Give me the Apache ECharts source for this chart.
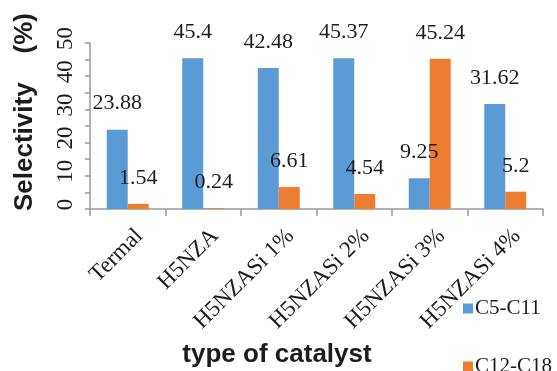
<!DOCTYPE html>
<html>
<head>
<meta charset="utf-8">
<script src="https://cdn.jsdelivr.net/npm/echarts@6/dist/echarts.min.js"></script>
<style>
  html, body { margin: 0; padding: 0; background: #fff; }
  #chart { width: 557px; height: 371px; }
</style>
</head>
<body>
<div id="chart"></div>
<script>
// Catalyst types on the category axis
const categories = ['Termal', 'H5NZA', 'H5NZASi 1%', 'H5NZASi 2%', 'H5NZASi 3%', 'H5NZASi 4%'];
// Selectivity (%) per product fraction
const c5c11 = [23.88, 45.4, 42.48, 45.37, 9.25, 31.62];
const c12c18 = [1.54, 0.24, 6.61, 4.54, 45.24, 5.2];
const seriesNames = ['C5-C11', 'C12-C18'];

const serif = '"Liberation Serif", "Times New Roman", serif';
const sans = '"Liberation Sans", Arial, sans-serif';
const axisGray = '#9a9a9a';
const textColor = '#1c1c1c';

const chart = echarts.init(document.getElementById('chart'), null, { renderer: 'canvas' });

const barLabel = {
  show: true,
  position: 'top',
  distance: 15,
  fontFamily: serif,
  fontSize: 22,
  color: textColor
};

chart.setOption({
  animation: false,
  backgroundColor: '#ffffff',
  grid: {
    left: 90, right: 14, top: 43, bottom: 162,
    containLabel: false,
    outerBoundsMode: 'none'
  },
  legend: {
    orient: 'vertical',
    left: 458,
    top: 293,
    height: 150,
    itemGap: 37,
    itemWidth: 10,
    itemHeight: 10,
    icon: 'rect',
    data: seriesNames,
    textStyle: { fontFamily: serif, fontSize: 21, color: textColor, padding: [0, 0, 0, -3] }
  },
  xAxis: {
    type: 'category',
    data: categories,
    name: 'type of catalyst',
    nameLocation: 'middle',
    nameGap: 133,
    nameTextStyle: {
      fontFamily: sans, fontSize: 26, fontWeight: 'bold', color: textColor,
      padding: [0, 79, 0, 0]
    },
    axisLine: { lineStyle: { color: axisGray, width: 1.5 } },
    axisTick: { show: true, length: 7, lineStyle: { color: axisGray, width: 1.5 } },
    axisLabel: {
      rotate: 45,
      interval: 0,
      margin: 19,
      verticalAlign: 'top',
      fontFamily: serif,
      fontSize: 23,
      color: textColor,
      padding: [0, -5, 0, 0]
    }
  },
  yAxis: {
    type: 'value',
    min: 0,
    max: 50,
    interval: 10,
    name: 'Selectivity    (%)',
    nameLocation: 'middle',
    nameGap: 52,
    nameTextStyle: {
      fontFamily: sans, fontSize: 26, fontWeight: 'bold', color: textColor,
      padding: [0, 0, 0, 28]
    },
    axisLine: { show: true, lineStyle: { color: axisGray, width: 1.5 } },
    axisTick: { show: true, length: 5, lineStyle: { color: axisGray, width: 1.5 } },
    minorTick: { show: true, splitNumber: 2, length: 5, lineStyle: { color: axisGray, width: 1.5 } },
    splitLine: { show: false },
    axisLabel: {
      rotate: 90,
      margin: 13,
      fontFamily: serif,
      fontSize: 23,
      color: textColor,
      padding: [0, 0, 0, 9]
    }
  },
  series: [
    {
      name: seriesNames[0],
      type: 'bar',
      data: c5c11,
      barWidth: 21,
      barGap: '0%',
      itemStyle: { color: '#5B9BD5' },
      label: barLabel
    },
    {
      name: seriesNames[1],
      type: 'bar',
      data: c12c18,
      barWidth: 21,
      barGap: '0%',
      itemStyle: { color: '#ED7D31' },
      label: barLabel
    }
  ]
});
</script>
</body>
</html>
